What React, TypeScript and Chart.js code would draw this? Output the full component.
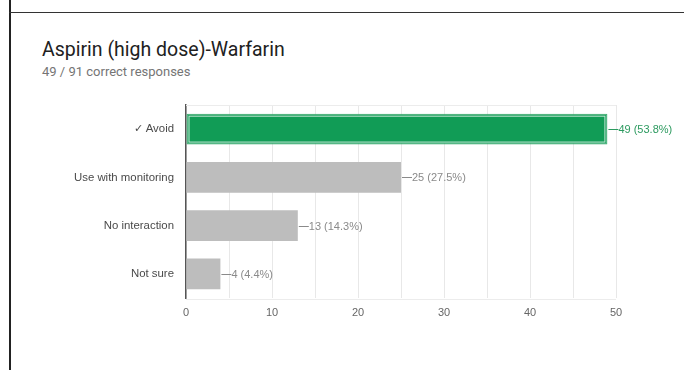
import React, { useEffect, useRef } from "react";
import { Chart, registerables } from "chart.js";

Chart.register(...registerables);

const categories = ["✓ Avoid", "Use with monitoring", "No interaction", "Not sure"];
const counts = [49, 25, 13, 4];
const percents = ["53.8%", "27.5%", "14.3%", "4.4%"];
const xTicks = [0, 10, 20, 30, 40, 50];

const GREEN = "#119c56";
const GREEN_TEXT = "#2c9a5f";
const GRAY = "#bdbdbd";
const GRAY_TEXT = "#8a8a8a";

const decorPlugin = {
  id: "decor",
  beforeDatasetsDraw(chart: any) {
    const { ctx, chartArea } = chart;
    ctx.save();
    ctx.strokeStyle = "#ececec";
    ctx.lineWidth = 1;
    ctx.beginPath();
    ctx.moveTo(chartArea.left, chartArea.top + 0.5);
    ctx.lineTo(chartArea.right, chartArea.top + 0.5);
    ctx.moveTo(chartArea.left, chartArea.bottom + 1.5);
    ctx.lineTo(chartArea.right, chartArea.bottom + 1.5);
    ctx.stroke();
    ctx.restore();
  },
  afterDatasetsDraw(chart: any) {
    const { ctx } = chart;
    const meta = chart.getDatasetMeta(0);
    ctx.save();
    meta.data.forEach((el: any, i: number) => {
      const correct = i === 0;
      const color = correct ? GREEN_TEXT : GRAY_TEXT;
      if (correct) {
        const h = el.height;
        const top = el.y - h / 2;
        ctx.strokeStyle = "rgba(255,255,255,0.75)";
        ctx.lineWidth = 1;
        ctx.strokeRect(el.base + 2.5, top + 2.5, el.x - el.base - 5, h - 5);
      }
      ctx.strokeStyle = color;
      ctx.lineWidth = 1;
      ctx.beginPath();
      ctx.moveTo(el.x + 1, Math.round(el.y) + 0.5);
      ctx.lineTo(el.x + 11, Math.round(el.y) + 0.5);
      ctx.stroke();
      ctx.fillStyle = color;
      ctx.font = "11px Arial, 'Liberation Sans', sans-serif";
      ctx.textBaseline = "middle";
      ctx.textAlign = "left";
      ctx.fillText(`${counts[i]} (${percents[i]})`, el.x + 11, el.y + 1);
    });
    ctx.restore();
  },
};

export default function App() {
  const ref = useRef<HTMLCanvasElement | null>(null);

  useEffect(() => {
    if (!ref.current) return;
    const chart = new Chart(ref.current, {
      type: "bar",
      data: {
        labels: categories,
        datasets: [
          {
            data: counts,
            backgroundColor: counts.map((_, i) => (i === 0 ? GREEN : GRAY)),
            borderColor: counts.map((_, i) => (i === 0 ? "#3aa96c" : GRAY)),
            borderWidth: counts.map((_, i) => (i === 0 ? 1 : 0)),
            borderSkipped: false,
            barPercentage: 0.64,
            categoryPercentage: 1,
          },
        ],
      },
      options: {
        indexAxis: "y",
        animation: false,
        responsive: false,
        maintainAspectRatio: false,
        layout: { padding: { top: 105, right: 68, bottom: 0, left: 0 } },
        plugins: {
          legend: { display: false },
          tooltip: { enabled: false },
          title: { display: false },
        },
        scales: {
          x: {
            type: "linear",
            min: 0,
            max: 50,
            afterFit: (s: any) => {
              s.height = 72;
            },
            afterBuildTicks: (s: any) => {
              const t: any[] = [];
              for (let v = 0; v <= 50; v += 5) t.push({ value: v });
              s.ticks = t;
            },
            ticks: {
              autoSkip: false,
              maxRotation: 0,
              padding: 8,
              color: "#666",
              font: { family: "Arial, 'Liberation Sans', sans-serif", size: 11 },
              callback: (v: any) => (xTicks.includes(Number(v)) ? String(v) : ""),
            },
            grid: { color: "#e8e8e8", drawTicks: false, lineWidth: 1 },
            border: { display: false },
          },
          y: {
            afterFit: (s: any) => {
              s.width = 186;
            },
            ticks: {
              padding: 12,
              color: "#4a4a4a",
              font: { family: "Arial, 'Liberation Sans', sans-serif", size: 11.4 },
            },
            grid: { display: false, drawTicks: false },
            border: { display: true, color: "#555", width: 1.5 },
          },
        },
      },
      plugins: [decorPlugin],
    } as any);
    return () => chart.destroy();
  }, []);

  return (
    <div style={{ position: "fixed", left: 0, top: 0, width: 684, height: 370, background: "#fff" }}>
      <div style={{ position: "absolute", left: 9, top: 0, width: 1.5, height: 370, background: "#222" }} />
      <div style={{ position: "absolute", left: 9, top: 12, width: 675, height: 1, background: "#333" }} />
      <div
        style={{
          position: "absolute",
          left: 42,
          top: 40,
          fontFamily: "Roboto, 'Noto Sans', sans-serif",
          fontSize: 19.5,
          lineHeight: "19.5px",
          color: "#212121",
          whiteSpace: "nowrap",
        }}
      >
        Aspirin (high dose)-Warfarin
      </div>
      <div
        style={{
          position: "absolute",
          left: 42,
          top: 65,
          fontFamily: "Roboto, 'Noto Sans', sans-serif",
          fontSize: 13,
          lineHeight: "13px",
          color: "#757575",
          whiteSpace: "nowrap",
        }}
      >
        49 / 91 correct responses
      </div>
      <canvas ref={ref} width={684} height={370} style={{ position: "absolute", left: 0, top: 0 }} />
    </div>
  );
}
